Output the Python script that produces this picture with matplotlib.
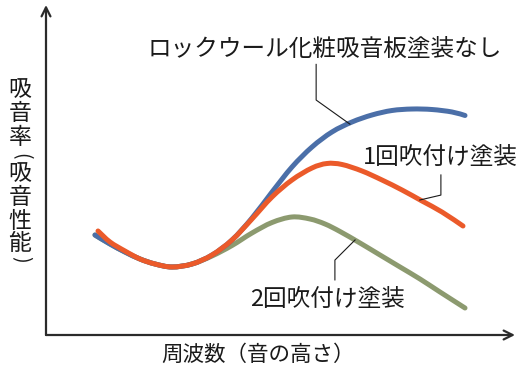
import matplotlib
matplotlib.use("Agg")
import matplotlib.pyplot as plt
from matplotlib.path import Path
from matplotlib.patches import PathPatch

plt.rcParams['font.family'] = ['Noto Sans CJK JP', 'DejaVu Sans']

# frequency (relative position) and absorption (relative)
x_blue = [10.45, 13.65, 16.84, 20.04, 23.24, 26.87, 31.13, 35.39, 39.66, 43.92, 48.19, 52.45,
          56.72, 60.98, 65.25, 69.51, 73.77, 78.04, 82.30, 86.57, 89.34]
y_blue = [30.30, 27.58, 25.15, 23.03, 21.52, 20.61, 21.52, 24.24, 28.79, 35.45, 43.33, 50.91,
          56.97, 61.52, 64.55, 66.67, 68.03, 68.48, 68.33, 67.58, 66.52]

x_orange = [11.09, 13.65, 16.84, 20.04, 23.24, 26.87, 31.13, 35.39, 39.66, 43.92, 48.19, 52.45,
            56.72, 59.91, 63.11, 67.38, 71.64, 75.91, 80.17, 84.43, 88.91]
y_orange = [31.52, 28.18, 25.45, 23.03, 21.52, 20.61, 21.52, 24.24, 28.79, 35.15, 41.82, 46.97,
            50.61, 51.97, 51.67, 49.70, 46.97, 43.94, 40.61, 37.27, 33.03]

x_green = [10.45, 13.65, 16.84, 20.04, 23.24, 26.87, 31.13, 35.39, 39.66, 43.92, 48.19, 52.45,
           56.29, 59.49, 62.69, 66.95, 71.22, 75.48, 79.74, 84.01, 89.34]
y_green = [30.30, 27.58, 25.15, 23.03, 21.52, 20.61, 21.52, 23.94, 27.12, 30.91, 34.09, 35.76,
           35.15, 33.64, 31.36, 27.88, 24.24, 20.61, 16.97, 13.03, 8.18]

label_blue = "ロックウール化粧吸音板塗装なし"
label_orange = "1回吹付け塗装"
label_green = "2回吹付け塗装"
xlabel = "周波数（音の高さ）"
ylabel_chars = ["吸", "音", "率", "(", "吸", "音", "性", "能", ")"]

c_blue = "#4b6fa8"
c_orange = "#eb5a2a"
c_green = "#8c9a6f"
c_axis = "#2b2b2b"
c_text = "#1a1a1a"


def smooth_path(xs, ys):
    """Bezier path through the points (Catmull-Rom tangents)."""
    pts = list(zip(xs, ys))
    verts = [pts[0]]
    codes = [Path.MOVETO]
    n = len(pts)
    for i in range(n - 1):
        p0 = pts[i - 1] if i > 0 else pts[i]
        p1 = pts[i]
        p2 = pts[i + 1]
        p3 = pts[i + 2] if i + 2 < n else pts[i + 1]
        c1 = (p1[0] + (p2[0] - p0[0]) / 6, p1[1] + (p2[1] - p0[1]) / 6)
        c2 = (p2[0] - (p3[0] - p1[0]) / 6, p2[1] - (p3[1] - p1[1]) / 6)
        verts += [c1, c2, p2]
        codes += [Path.CURVE4] * 3
    return Path(verts, codes)


fig = plt.figure(figsize=(5.27, 3.74), dpi=100)
ax = fig.add_axes([46/527, 39/374, 469/527, 330/374])
ax.set_xlim(0, 100)
ax.set_ylim(0, 100)
ax.axis('off')

for xs, ys, col, z in [(x_green, y_green, c_green, 2),
                       (x_blue, y_blue, c_blue, 3),
                       (x_orange, y_orange, c_orange, 4)]:
    ax.add_patch(PathPatch(smooth_path(xs, ys), facecolor='none', edgecolor=col, lw=3.6,
                           capstyle='round', joinstyle='round', zorder=z))

# axes arrows
arrow = dict(arrowstyle='->', color=c_axis, lw=1.6, mutation_scale=16, shrinkA=0, shrinkB=0)
ax.annotate("", xy=(0, 1), xytext=(0, 0), xycoords='axes fraction', textcoords='axes fraction', arrowprops=arrow)
ax.annotate("", xy=(1, 0), xytext=(0, 0), xycoords='axes fraction', textcoords='axes fraction', arrowprops=arrow)

# labels with leader lines
fs = 17
ax.text(59.5, 86.4, label_blue, fontsize=fs, ha='center', va='center', color=c_text)
ax.plot([57.6, 57.6, 64.8], [82.0, 71.2, 63.9], color=c_text, lw=0.8, zorder=5)

ax.text(84.0, 53.9, label_orange, fontsize=fs, ha='center', va='center', color=c_text)
ax.plot([84.2, 84.2, 79.7], [48.5, 42.4, 40.9], color=c_text, lw=0.8, zorder=5)

ax.text(60.1, 10.9, label_green, fontsize=fs, ha='center', va='center', color=c_text)
ax.plot([61.6, 61.6, 65.9], [16.7, 22.7, 28.8], color=c_text, lw=0.8, zorder=5)

fig.text(258/527, 1 - 355/374, xlabel, fontsize=15.5, ha='center', va='center', color=c_text)

ylab_centers = [90, 113, 137, 156, 174, 197, 221, 243, 259]
for ch, yc in zip(ylabel_chars, ylab_centers):
    if ch in "()":
        fig.text(21/527, 1 - yc/374, ch, fontsize=14, ha='center', va='center',
                 color=c_text, rotation=-90)
    else:
        fig.text(20/527, 1 - yc/374, ch, fontsize=16.5, ha='center', va='center', color=c_text)

fig.savefig("out.png", dpi=100)
